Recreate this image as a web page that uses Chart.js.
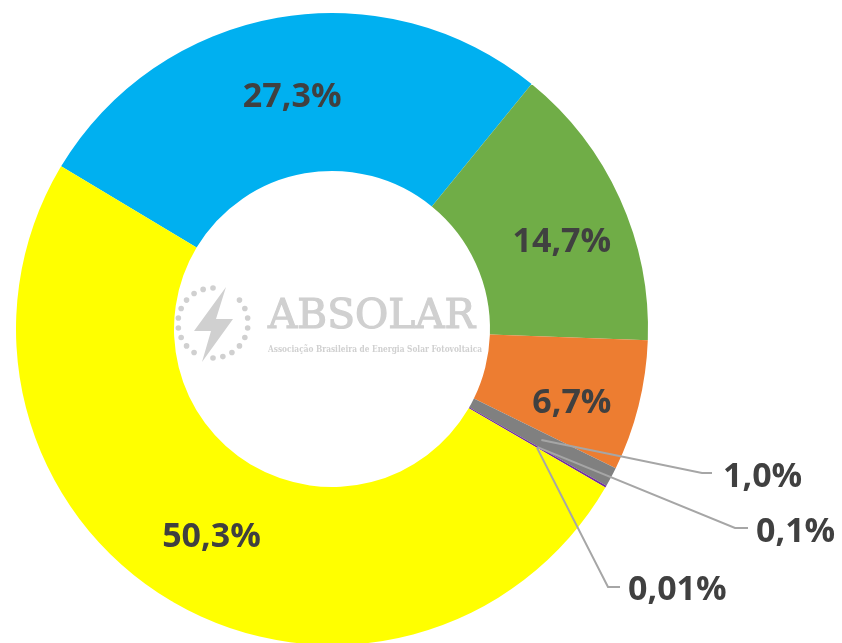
<!DOCTYPE html>
<html>
<head>
<meta charset="utf-8">
<script src="https://cdn.jsdelivr.net/npm/chart.js@4/dist/chart.umd.min.js"></script>
<style>
  html, body { margin: 0; padding: 0; background: #fff; overflow: hidden; }
  #wrap { position: relative; width: 842px; height: 660px; }
</style>
</head>
<body>
<div id="wrap"><canvas id="shareChart"></canvas></div>
<script>
// slices in clockwise order, starting at the blue one
const sliceValues = [27.3, 14.7, 6.7, 1.0, 0.1, 0.01, 50.3];
const sliceLabels = ['27,3%', '14,7%', '6,7%', '1,0%', '0,1%', '0,01%', '50,3%'];
const sliceColors = ['#00B0F0', '#70AD47', '#ED7D31', '#808080', '#7030A0', '#C00000', '#FFFF00'];

// where each label goes: inside the ring (with a small nudge) or outside with a leader line
const labelPlaces = [
    { dx: 1, dy: -1 },
    { dx: 14, dy: 9 },
    { dx: 10, dy: 14 },
    { elbow: [702, 473], end: [712, 473], textX: 723, textY: 475 },
    { elbow: [735, 528], end: [748, 528], textX: 756, textY: 530 },
    { elbow: [608, 587], end: [620, 587], textX: 628, textY: 588 },
    { dx: 0, dy: 2 }
];

const sliceLabelPlugin = {
    id: 'sliceLabels',
    afterDatasetsDraw(chart) {
        const ctx = chart.ctx;
        const meta = chart.getDatasetMeta(0);
        ctx.save();
        ctx.font = 'bold 34px "Open Sans"';
        ctx.fillStyle = '#404040';
        ctx.textBaseline = 'alphabetic';
        meta.data.forEach((arc, i) => {
            const p = arc.tooltipPosition();
            const place = labelPlaces[i];
            if (place.elbow) {
                ctx.strokeStyle = '#A6A6A6';
                ctx.lineWidth = 2;
                ctx.beginPath();
                ctx.moveTo(p.x, p.y);
                ctx.lineTo(place.elbow[0], place.elbow[1]);
                ctx.lineTo(place.end[0], place.end[1]);
                ctx.stroke();
                ctx.textAlign = 'left';
                ctx.fillText(sliceLabels[i], place.textX, place.textY + 12);
            } else {
                ctx.textAlign = 'center';
                ctx.fillText(sliceLabels[i], p.x + place.dx, p.y + place.dy + 12);
            }
        });
        ctx.restore();
    }
};

// ABSOLAR watermark in the hole
const logoPlugin = {
    id: 'logo',
    afterDraw(chart) {
        const ctx = chart.ctx;
        const grey = '#D0D0D0';
        ctx.save();
        ctx.fillStyle = grey;
        ctx.strokeStyle = grey;

        // ring of dots
        const cx = 213, cy = 323, r = 35;
        for (let k = 0; k < 22; k++) {
            const a = k / 22 * Math.PI * 2;
            const x = cx + r * Math.sin(a), y = cy - r * Math.cos(a);
            if (Math.abs(x - 225) < 7 && y < 300) continue;
            if (Math.abs(x - 202) < 7 && y > 345) continue;
            ctx.beginPath();
            ctx.arc(x, y, 2.8, 0, Math.PI * 2);
            ctx.fill();
        }

        // bolt
        ctx.beginPath();
        ctx.moveTo(226, 287);
        ctx.lineTo(194, 331);
        ctx.lineTo(211, 331);
        ctx.lineTo(202, 362);
        ctx.lineTo(233, 319);
        ctx.lineTo(216, 319);
        ctx.closePath();
        ctx.fill();

        // name
        ctx.font = '41px "DejaVu Serif"';
        ctx.textBaseline = 'alphabetic';
        ctx.textAlign = 'left';
        let w = ctx.measureText('ABSOLAR').width;
        ctx.save();
        ctx.translate(268, 328);
        ctx.scale(207 / w, 1);
        ctx.lineWidth = 1.2;
        ctx.fillText('ABSOLAR', 0, 0);
        ctx.strokeText('ABSOLAR', 0, 0);
        ctx.restore();

        const sub = 'Associação Brasileira de Energia Solar Fotovoltaica';
        ctx.font = 'bold 10px "DejaVu Serif"';
        w = ctx.measureText(sub).width;
        ctx.save();
        ctx.translate(268, 352);
        ctx.scale(214 / w, 1);
        ctx.fillText(sub, 0, 0);
        ctx.restore();

        ctx.restore();
    }
};

new Chart(document.getElementById('shareChart'), {
    type: 'doughnut',
    data: {
        labels: sliceLabels,
        datasets: [{
            data: sliceValues,
            backgroundColor: sliceColors,
            borderWidth: 0,
            hoverOffset: 0
        }]
    },
    options: {
        responsive: true,
        maintainAspectRatio: false,
        animation: false,
        rotation: -59,
        cutout: '50%',
        layout: { padding: { left: 16, right: 194, top: 13, bottom: 15 } },
        plugins: {
            legend: { display: false },
            tooltip: { enabled: false }
        }
    },
    plugins: [sliceLabelPlugin, logoPlugin]
});
</script>
</body>
</html>
